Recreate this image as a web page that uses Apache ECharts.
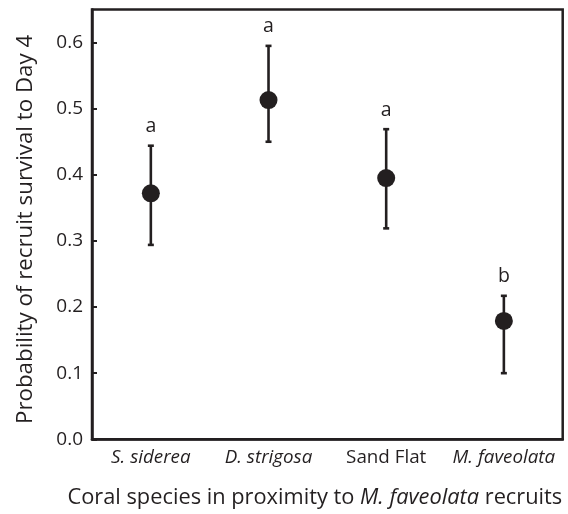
<!DOCTYPE html>
<html>
<head>
<meta charset="utf-8">
<script src="https://cdn.jsdelivr.net/npm/echarts@6/dist/echarts.min.js"></script>
<style>
  html, body { margin: 0; padding: 0; background: #fff; }
  #chart { width: 568px; height: 514px; }
</style>
</head>
<body>
<div id="chart"></div>
<script>
// Habitat next to the recruits
const categories = ['S. siderea', 'D. strigosa', 'Sand Flat', 'M. faveolata'];
const italicCategory = [true, true, false, true];
// Estimated survival probability and its interval bounds
const meanSurvival = [0.372, 0.513, 0.395, 0.179];
const lowerBound = [0.294, 0.450, 0.319, 0.100];
const upperBound = [0.444, 0.595, 0.469, 0.217];
// Significance grouping letters
const groupLetters = ['a', 'a', 'a', 'b'];
const yTicks = [0, 0.1, 0.2, 0.3, 0.4, 0.5, 0.6];

const INK = '#231f20';
const FONT = '"Open Sans", "Noto Sans", sans-serif';

const chart = echarts.init(document.getElementById('chart'), null, { renderer: 'canvas' });

const barData = categories.map((c, i) => [i, lowerBound[i], upperBound[i], groupLetters[i]]);

const option = {
  animation: false,
  grid: {
    left: 92, right: 5.3, top: 9.5, bottom: 74.7,
    show: true, borderColor: INK, borderWidth: 2.5, backgroundColor: 'transparent'
  },
  xAxis: {
    type: 'category',
    data: categories,
    boundaryGap: true,
    axisLine: { lineStyle: { color: INK, width: 2.5 } },
    axisTick: { show: false },
    axisLabel: {
      interval: 0,
      margin: 9,
      fontFamily: FONT, fontSize: 18.8, color: INK,
      formatter: (v) => {
        const i = categories.indexOf(v);
        return italicCategory[i] ? '{it|' + v + '}' : '{up|' + v + '}';
      },
      rich: {
        it: { fontStyle: 'italic', fontFamily: FONT, fontSize: 18.8, color: INK },
        up: { fontFamily: FONT, fontSize: 18.8, color: INK }
      }
    },
    name: '{up|Coral species in proximity to }{it|M. faveolata}{up| recruits}',
    nameLocation: 'middle',
    nameGap: 47,
    nameTextStyle: {
      fontFamily: FONT, fontSize: 21.8, color: INK,
      padding: [0, 25, 0, 0],
      rich: {
        it: { fontStyle: 'italic', fontFamily: FONT, fontSize: 21.8, color: INK },
        up: { fontFamily: FONT, fontSize: 21.8, color: INK }
      }
    }
  },
  yAxis: {
    type: 'value',
    min: 0, max: 0.65, interval: 0.1,
    axisLine: { show: true, lineStyle: { color: INK, width: 2.5 } },
    axisTick: { show: true, inside: true, length: 5, lineStyle: { color: INK, width: 2 } },
    splitLine: { show: false },
    axisLabel: {
      margin: 9,
      showMaxLabel: false,
      fontFamily: FONT, fontSize: 19, color: INK,
      formatter: (v) => {
        const hit = yTicks.find(t => Math.abs(t - v) < 1e-6);
        return hit === undefined ? '' : hit.toFixed(1);
      }
    },
    name: 'Probability of recruit survival to Day 4',
    nameLocation: 'middle',
    nameGap: 55,
    nameTextStyle: { fontFamily: FONT, fontSize: 22.3, color: INK, padding: [0, 10, 0, 0] }
  },
  series: [
    {
      type: 'custom',
      data: barData,
      z: 2,
      renderItem: (params, api) => {
        const x = api.value(0);
        const lo = api.coord([x, api.value(1)]);
        const hi = api.coord([x, api.value(2)]);
        const cap = 3;
        const style = { stroke: INK, lineWidth: 2.6 };
        return {
          type: 'group',
          children: [
            { type: 'line', shape: { x1: lo[0], y1: lo[1], x2: hi[0], y2: hi[1] }, style },
            { type: 'line', shape: { x1: hi[0] - cap, y1: hi[1], x2: hi[0] + cap, y2: hi[1] }, style },
            { type: 'line', shape: { x1: lo[0] - cap, y1: lo[1], x2: lo[0] + cap, y2: lo[1] }, style },
            {
              type: 'text',
              style: {
                text: groupLetters[params.dataIndex],
                x: hi[0], y: hi[1] - 19,
                align: 'center', verticalAlign: 'middle',
                fontFamily: FONT, fontSize: 19.5, fill: INK
              }
            }
          ]
        };
      }
    },
    {
      type: 'scatter',
      data: meanSurvival.map((v, i) => [i, v]),
      symbol: 'circle',
      symbolSize: 18,
      itemStyle: { color: INK, opacity: 1 },
      z: 3
    }
  ]
};

chart.setOption(option);
</script>
</body>
</html>
